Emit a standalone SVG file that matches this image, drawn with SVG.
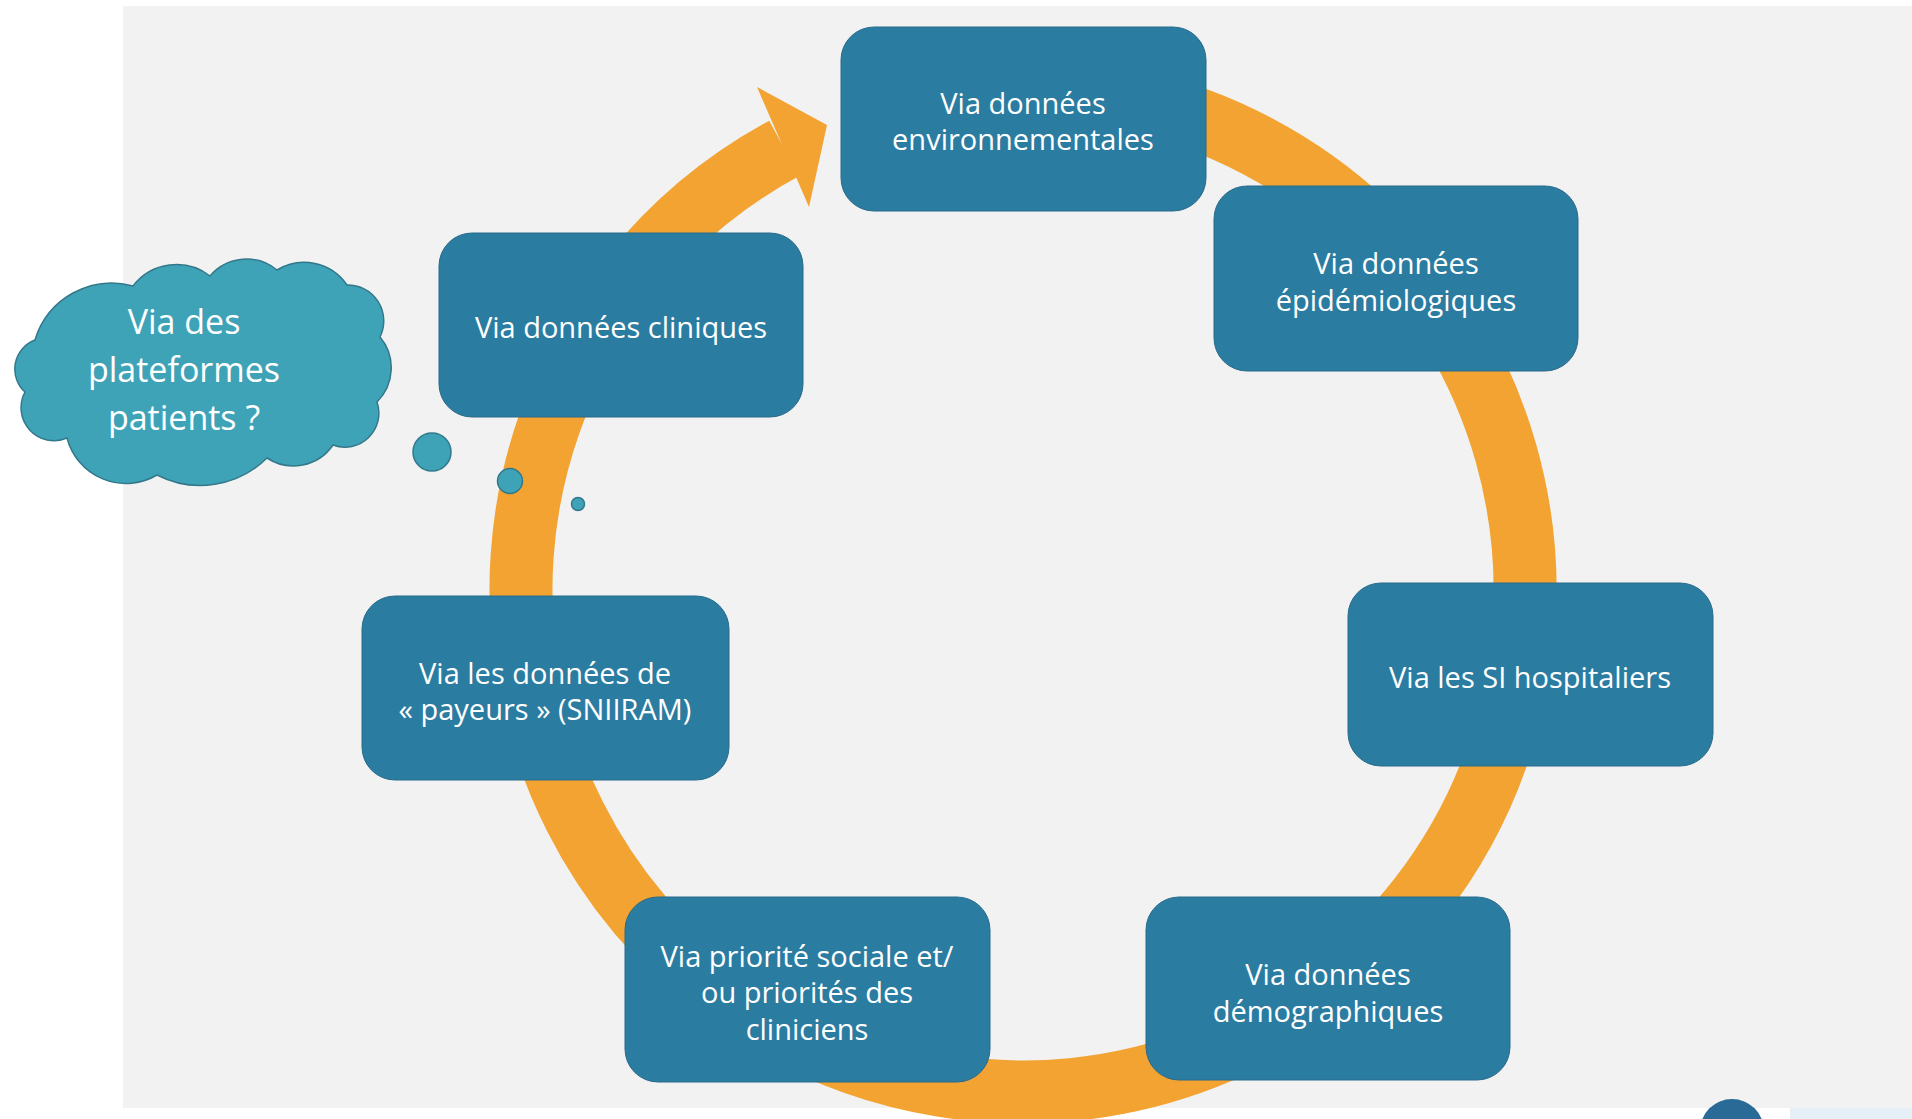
<svg xmlns="http://www.w3.org/2000/svg" width="1912" height="1119" viewBox="0 0 1912 1119">
  <defs>
    <style>
      .box { fill: #2b7ca1; stroke: #286a8a; stroke-width: 1; }
      .lbl { fill: #ffffff; font-family: "Open Sans", "Noto Sans", "Liberation Sans", sans-serif; font-size: 29px; text-anchor: middle; }
      .cloudlbl { fill: #ffffff; font-family: "Open Sans", "Noto Sans", "Liberation Sans", sans-serif; font-size: 34px; text-anchor: middle; }
      .ring { fill: none; stroke: #f2a332; stroke-width: 63; stroke-linecap: butt; }
      .head { fill: #f2a332; }
      .bub { fill: #3fa3b8; stroke: #33788a; stroke-width: 1.5; }
    </style>
  </defs>

  <rect x="0" y="0" width="1912" height="1119" fill="#ffffff"/>
  <rect x="123" y="6" width="1789" height="1102" fill="#f2f2f2"/>

  <g id="connectors">
    <path class="ring" d="M 899.9 103.3 A 502 502 0 1 1 784.2 148.4"/>
    <polygon class="head" points="757,87 827,125 809,207"/>
  </g>

  <g id="node-env">
    <rect class="box" x="841" y="27" width="365" height="184" rx="33"/>
    <text class="lbl" x="1023" y="114">Via données</text>
    <text class="lbl" x="1023" y="150">environnementales</text>
  </g>
  <g id="node-epi">
    <rect class="box" x="1214" y="186" width="364" height="185" rx="33"/>
    <text class="lbl" x="1396" y="274">Via données</text>
    <text class="lbl" x="1396" y="311">épidémiologiques</text>
  </g>
  <g id="node-si">
    <rect class="box" x="1348" y="583" width="365" height="183" rx="33"/>
    <text class="lbl" x="1530" y="688">Via les SI hospitaliers</text>
  </g>
  <g id="node-demo">
    <rect class="box" x="1146" y="897" width="364" height="183" rx="33"/>
    <text class="lbl" x="1328" y="985">Via données</text>
    <text class="lbl" x="1328" y="1022">démographiques</text>
  </g>
  <g id="node-prio">
    <rect class="box" x="625" y="897" width="365" height="185" rx="33"/>
    <text class="lbl" x="807" y="967">Via priorité sociale et/</text>
    <text class="lbl" x="807" y="1003">ou priorités des</text>
    <text class="lbl" x="807" y="1040">cliniciens</text>
  </g>
  <g id="node-payeurs">
    <rect class="box" x="362" y="596" width="367" height="184" rx="33"/>
    <text class="lbl" x="545" y="684">Via les données de</text>
    <text class="lbl" x="545" y="720">« payeurs » (SNIIRAM)</text>
  </g>
  <g id="node-clin">
    <rect class="box" x="439" y="233" width="364" height="184" rx="33"/>
    <text class="lbl" x="621" y="338">Via données cliniques</text>
  </g>

  <g id="node-cloud">
    <path fill="#3fa3b8" stroke="#33788a" stroke-width="1.5" d="M 35 340
      A 80 80 0 0 1 133 286
      A 55 55 0 0 1 210 276
      A 48 48 0 0 1 277 270
      A 52 52 0 0 1 347 285
      A 36 36 0 0 1 380 337
      A 48 48 0 0 1 377 402
      A 34 34 0 0 1 333 445
      A 48 48 0 0 1 267 458
      A 95 95 0 0 1 157 475
      A 61 61 0 0 1 67 438
      A 33 33 0 0 1 25 392
      A 31 31 0 0 1 35 340 Z"/>
    <text class="cloudlbl" x="184" y="334">Via des</text>
    <text class="cloudlbl" x="184" y="382">plateformes</text>
    <text class="cloudlbl" x="184" y="430">patients ?</text>
    <circle class="bub" cx="432" cy="452" r="19"/>
    <circle class="bub" cx="510" cy="481" r="12.5"/>
    <circle class="bub" cx="578" cy="504" r="6.5" fill="#3a8c9e"/>
  </g>

  <circle cx="1732" cy="1131" r="32" fill="#2a6a96"/>
  <rect x="1790" y="1108" width="122" height="11" fill="#e6eff6"/>
</svg>
